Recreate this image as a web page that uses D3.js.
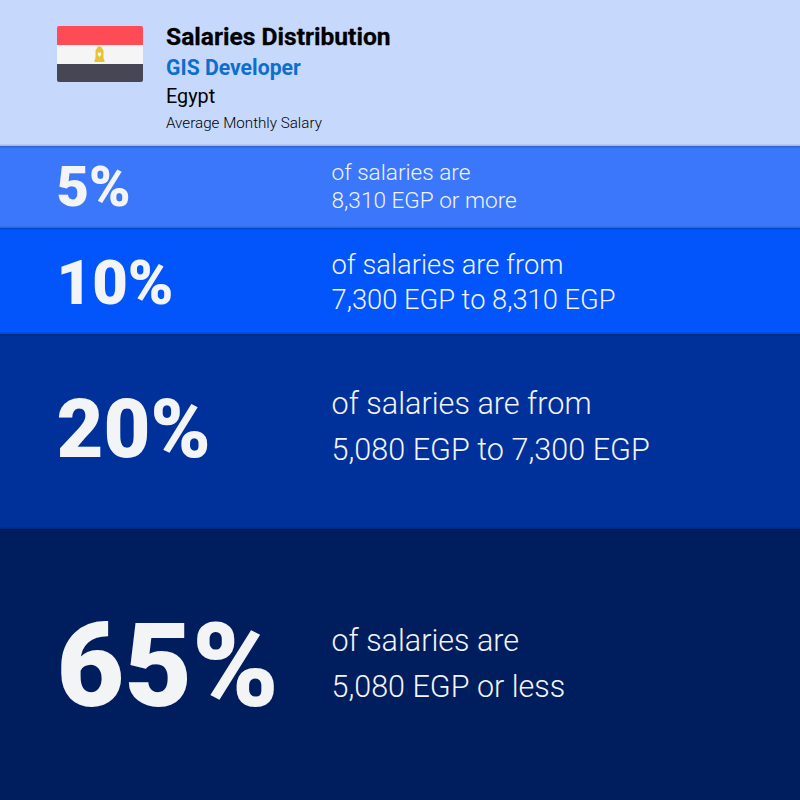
<!DOCTYPE html>
<html>
<head>
<meta charset="utf-8">
<script src="https://cdn.jsdelivr.net/npm/d3@7"></script>
<style>
  html, body { margin: 0; padding: 0; background: #c6d9fd; }
  svg { display: block; font-family: Roboto, sans-serif; }
</style>
</head>
<body>
<div id="chart"></div>
<script>
const shares = [5, 10, 20, 65];
const lineOne = ["of salaries are", "of salaries are from", "of salaries are from", "of salaries are"];
const lineTwo = ["8,310 EGP or more", "7,300 EGP to 8,310 EGP", "5,080 EGP to 7,300 EGP", "5,080 EGP or less"];
const bandColors = ["#3b77fb", "#0255fb", "#00319a", "#001e5e"];
const cumulative = [0, 5, 15, 35, 100];

const w = 800;
const h = 800;

// the bands are not proportional in the original, so the scale is piecewise
const yScale = d3.scaleLinear()
  .domain(cumulative)
  .range([146, 228, 334, 529, 800]);

const bigSize = d3.scaleLinear().domain(shares).range([56, 61.5, 81, 117]);
const bigNudge = d3.scaleLinear().domain(shares).range([-1, 1, -3, 0]);
const textSize = d3.scaleLinear().domain(shares).range([22.6, 27.3, 30.6, 30.5]);
const lineGap = d3.scaleLinear().domain(shares).range([28.5, 35, 46, 46]);
const textNudge = d3.scaleLinear().domain(shares).range([-1, 1, -5, -1]);

const svg = d3.select("#chart")
  .append("svg")
  .attr("width", w)
  .attr("height", h);

svg.append("rect")
  .attr("width", w)
  .attr("height", h)
  .attr("fill", "#c6d9fd");

const bands = svg.selectAll("g.band")
  .data(shares)
  .enter()
  .append("g")
  .attr("class", "band");

const mid = i => (yScale(cumulative[i]) + yScale(cumulative[i + 1])) / 2;

bands.append("rect")
  .attr("x", 0)
  .attr("y", (d, i) => yScale(cumulative[i]))
  .attr("width", w)
  .attr("height", (d, i) => yScale(cumulative[i + 1]) - yScale(cumulative[i]))
  .attr("fill", (d, i) => bandColors[i]);

// soft shadow on top of each band
bands.append("rect")
  .attr("x", 0)
  .attr("y", (d, i) => yScale(cumulative[i]) - 2)
  .attr("width", w)
  .attr("height", 4)
  .attr("fill", "#000")
  .attr("opacity", 0.07);
bands.append("rect")
  .attr("x", 0)
  .attr("y", (d, i) => yScale(cumulative[i]) - 1)
  .attr("width", w)
  .attr("height", 2)
  .attr("fill", "#000")
  .attr("opacity", 0.08);

bands.append("text")
  .attr("x", 56.5)
  .attr("y", (d, i) => mid(i) + bigSize(d) * 0.355 + bigNudge(d))
  .attr("font-size", d => bigSize(d))
  .attr("font-weight", 900)
  .attr("fill", "#f3f4f6")
  .text(d => d + "%");

bands.append("text")
  .attr("x", 331.5)
  .attr("y", (d, i) => mid(i) - lineGap(d) / 2 + textSize(d) * 0.355 + textNudge(d))
  .attr("font-size", d => textSize(d))
  .attr("font-weight", 300)
  .attr("fill", "#f3f4f6")
  .text((d, i) => lineOne[i]);

bands.append("text")
  .attr("x", 331.5)
  .attr("y", (d, i) => mid(i) + lineGap(d) / 2 + textSize(d) * 0.355 + textNudge(d))
  .attr("font-size", d => textSize(d))
  .attr("font-weight", 300)
  .attr("fill", "#f3f4f6")
  .text((d, i) => lineTwo[i]);

// header
const header = svg.append("g");
header.append("text").attr("x", 166).attr("y", 45).attr("font-size", 24.6).attr("font-weight", 700).attr("stroke", "#000").attr("stroke-width", 0.3).attr("fill", "#000").text("Salaries Distribution");
header.append("text").attr("x", 166).attr("y", 74.5).attr("font-size", 21.2).attr("font-weight", 700).attr("fill", "#0d6ecd").text("GIS Developer");
header.append("text").attr("x", 166).attr("y", 103).attr("font-size", 19.8).attr("font-weight", 400).attr("fill", "#000").text("Egypt");
header.append("text").attr("x", 166).attr("y", 128).attr("font-size", 15.2).attr("font-weight", 300).attr("fill", "#000").text("Average Monthly Salary");

// flag
const flag = svg.append("g").attr("transform", "translate(57,26)");
flag.append("clipPath").attr("id", "flagClip")
  .append("rect").attr("width", 86).attr("height", 56).attr("rx", 2);
const stripes = flag.append("g").attr("clip-path", "url(#flagClip)");
stripes.append("rect").attr("width", 86).attr("height", 19).attr("fill", "#ff4b55");
stripes.append("rect").attr("y", 19).attr("width", 86).attr("height", 19).attr("fill", "#f5f5f5");
stripes.append("rect").attr("y", 38).attr("width", 86).attr("height", 18).attr("fill", "#464655");
flag.append("path")
  .attr("d", "M41 20.5h3l1.5 2.5l1 1.5v7.5l1 2.5v1.5h-10v-1.5l1-2.5v-7.5l1-1.5z")
  .attr("fill", "#e8c32e");
flag.append("path")
  .attr("d", "M41.2 26.5h2.6l.6 2.2l-1.9 2.3l-1.9-2.3z")
  .attr("fill", "#f5f5f5");
</script>
</body>
</html>
